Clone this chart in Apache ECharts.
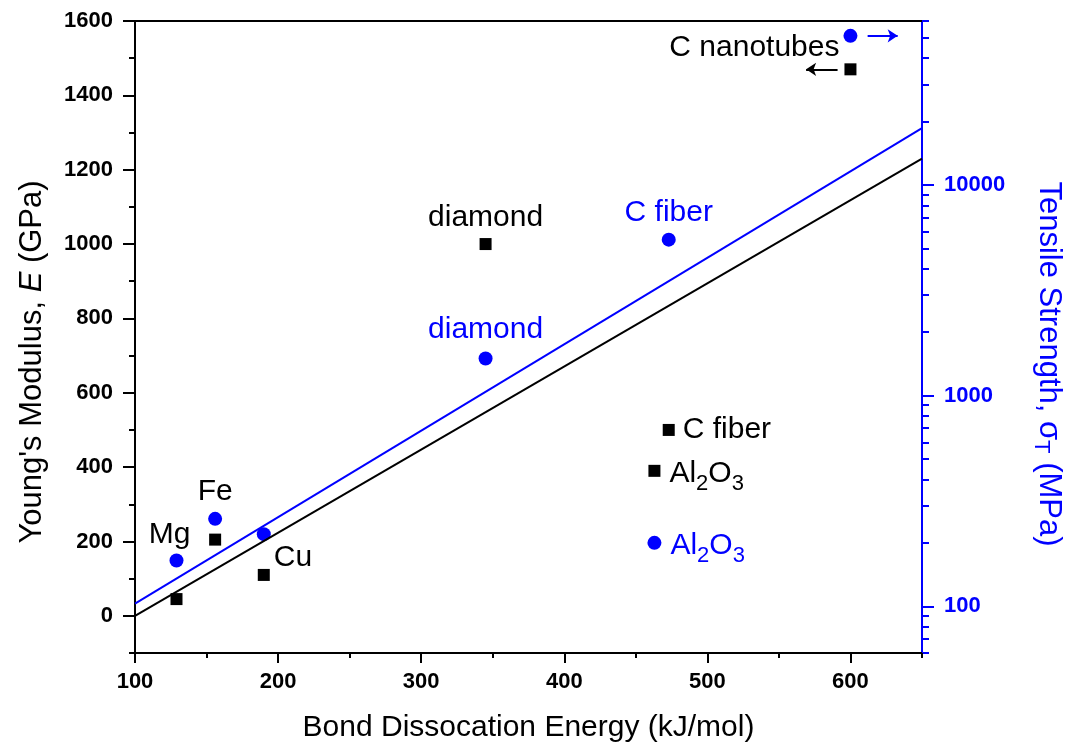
<!DOCTYPE html>
<html lang="en" style="height: 100%">

<head>
  <meta charset="utf-8">
</head>

<body style="height: 100%; margin: 0">
  <div id="container" style="height: 100%"></div>

  <script type="text/javascript" src="https://cdn.jsdelivr.net/npm/echarts@6/dist/echarts.min.js"></script>

  <script type="text/javascript">
    // materials
    const names = ['Mg', 'Fe', 'Cu', 'diamond', 'C fiber', 'Al2O3', 'C nanotubes'];
    const bondEnergy = [129, 156, 190, 345, 473, 463, 600];       // kJ/mol
    const modulus = [45, 205, 110, 1000, 500, 390, 1470];          // GPa
    const strength = [165, 260, 220, 1500, 5500, 200, 51000];      // MPa

    // linear fits
    const fitEnergy = [100, 650];
    const fitModulus = [0, 1230];
    const fitStrength = [103, 18600];

    // arrows showing which axis the nanotube points belong to
    const arrowModulus = [[591, 1470], [569, 1470]];
    const arrowStrength = [[612, 51000], [633, 51000]];

    // ticks
    const xMajor = [100, 200, 300, 400, 500, 600];
    const xMinor = [150, 250, 350, 450, 550, 650];
    const eMajor = [0, 200, 400, 600, 800, 1000, 1200, 1400, 1600];
    const eMinor = [-100, 100, 300, 500, 700, 900, 1100, 1300, 1500];
    const sMajor = [100, 1000, 10000];
    const sMinor = [60, 70, 80, 90, 200, 300, 400, 500, 600, 700, 800, 900,
      2000, 3000, 4000, 5000, 6000, 7000, 8000, 9000, 20000, 30000, 40000, 50000, 60000];

    const BLUE = '#0000ff';
    const FONT = 'Liberation Sans, Arial, sans-serif';

    // where each point label goes
    const modulusLabels = {
      'Cu': { position: 'right', distance: 4, offset: [0, -17] },
      'diamond': { position: 'top', distance: 5 },
      'C fiber': { position: 'right', distance: 8 },
      'Al2O3': { position: 'right', distance: 9, offset: [0, 3] },
      'C nanotubes': { position: 'left', distance: 5, offset: [0, -22] }
    };
    const strengthLabels = {
      'Mg': { position: 'top', distance: 4, offset: [-7, 0], color: '#000' },
      'Fe': { position: 'top', distance: 5, color: '#000' },
      'diamond': { position: 'top', distance: 7 },
      'C fiber': { position: 'top', distance: 5 },
      'Al2O3': { position: 'right', distance: 9, offset: [0, 3] }
    };

    function labelText(name) {
      return name === 'Al2O3' ? 'Al{sub|2}O{sub|3}' : name;
    }

    function subRich(color) {
      return {
        sub: { fontSize: 22, fontFamily: FONT, color: color, padding: [20, 0, 0, 0] }
      };
    }

    function points(values, labels, color) {
      return names.map(function (n, i) {
        const item = { name: n, value: [bondEnergy[i], values[i]] };
        const l = labels[n];
        if (l) {
          item.label = Object.assign({
            show: true,
            formatter: labelText(n),
            fontSize: 30,
            fontFamily: FONT,
            color: color,
            rich: subRich(l.color || color)
          }, l);
        }
        return item;
      });
    }

    function intLabel(v) {
      return String(Math.round(v));
    }

    var dom = document.getElementById('container');
    var myChart = echarts.init(dom, null, { renderer: 'canvas' });

    const tickLabel = { fontSize: 22, fontWeight: 'bold', fontFamily: FONT, color: '#000' };

    var option = {
      animation: false,
      grid: { left: 135, right: 144, top: 21, bottom: 102, containLabel: false, outerBoundsMode: 'none' },
      xAxis: [
        {
          type: 'value', min: 100, max: 650, position: 'bottom',
          name: 'Bond Dissocation Energy (kJ/mol)',
          nameLocation: 'middle', nameGap: 60,
          nameTextStyle: { fontSize: 30, fontFamily: FONT, color: '#000' },
          axisLine: { onZero: false, lineStyle: { color: '#000', width: 2 } },
          axisTick: { customValues: xMajor, length: 10, lineStyle: { width: 2 } },
          axisLabel: Object.assign({ customValues: xMajor, margin: 18, formatter: intLabel }, tickLabel),
          splitLine: { show: false }
        },
        {
          type: 'value', min: 100, max: 650, position: 'bottom',
          axisLine: { show: false, onZero: false },
          axisTick: { customValues: xMinor, length: 5, lineStyle: { color: '#000', width: 2 } },
          axisLabel: { show: false },
          splitLine: { show: false }
        },
        {
          type: 'value', min: 100, max: 650, position: 'top',
          axisLine: { onZero: false, lineStyle: { color: '#000', width: 2 } },
          axisTick: { show: false },
          axisLabel: { show: false },
          splitLine: { show: false }
        }
      ],
      yAxis: [
        {
          type: 'value', min: -100, max: 1600, position: 'left',
          name: "Young's Modulus, {i|E} (GPa)",
          nameLocation: 'middle', nameRotate: 90, nameGap: 87,
          nameTextStyle: {
            fontSize: 31, fontFamily: FONT, color: '#000', padding: [0, 50, 0, 0],
            rich: { i: { fontSize: 31, fontFamily: FONT, fontStyle: 'italic', color: '#000' } }
          },
          axisLine: { onZero: false, lineStyle: { color: '#000', width: 2 } },
          axisTick: { customValues: eMajor, length: 12, lineStyle: { width: 2 } },
          axisLabel: Object.assign({ customValues: eMajor, margin: 22, formatter: intLabel }, tickLabel),
          splitLine: { show: false }
        },
        {
          type: 'log', logBase: 10, min: 60, max: 60000, position: 'right',
          name: 'Tensile Strength, \u03c3{sub|T} (MPa)',
          nameLocation: 'middle', nameRotate: -90, nameGap: 108,
          nameTextStyle: {
            fontSize: 31, fontFamily: FONT, color: BLUE, padding: [0, 0, 0, 54],
            rich: { sub: { fontSize: 22, fontFamily: FONT, color: BLUE, padding: [16, 0, 0, 0] } }
          },
          axisLine: { onZero: false, lineStyle: { color: BLUE, width: 2 } },
          axisTick: { customValues: sMajor, length: 12, lineStyle: { color: BLUE, width: 2 } },
          axisLabel: Object.assign({ customValues: sMajor, margin: 22, formatter: intLabel }, tickLabel, { color: BLUE }),
          splitLine: { show: false }
        },
        {
          type: 'value', min: -100, max: 1600, position: 'left',
          axisLine: { show: false, onZero: false },
          axisTick: { customValues: eMinor, length: 6, lineStyle: { color: '#000', width: 2 } },
          axisLabel: { show: false },
          splitLine: { show: false }
        },
        {
          type: 'log', logBase: 10, min: 60, max: 60000, position: 'right',
          axisLine: { show: false, onZero: false },
          axisTick: { customValues: sMinor, length: 7, lineStyle: { color: BLUE, width: 2 } },
          axisLabel: { show: false },
          splitLine: { show: false }
        }
      ],
      series: [
        {
          type: 'line', xAxisIndex: 0, yAxisIndex: 0, silent: true,
          symbol: 'none', lineStyle: { color: '#000', width: 2 },
          data: fitEnergy.map(function (x, i) { return [x, fitModulus[i]]; })
        },
        {
          type: 'line', xAxisIndex: 0, yAxisIndex: 1, silent: true,
          symbol: 'none', lineStyle: { color: BLUE, width: 2 },
          data: fitEnergy.map(function (x, i) { return [x, fitStrength[i]]; })
        },
        {
          type: 'scatter', xAxisIndex: 0, yAxisIndex: 0,
          symbol: 'rect', symbolSize: 12,
          itemStyle: { color: '#000', opacity: 1 },
          data: points(modulus, modulusLabels, '#000'),
          markLine: {
            silent: true, symbol: ['none', 'arrow'], symbolSize: 10,
            label: { show: false },
            lineStyle: { color: '#000', width: 2, type: 'solid', opacity: 1 },
            data: [[{ coord: arrowModulus[0] }, { coord: arrowModulus[1] }]]
          }
        },
        {
          type: 'scatter', xAxisIndex: 0, yAxisIndex: 1,
          symbol: 'circle', symbolSize: 14,
          itemStyle: { color: BLUE, opacity: 1 },
          data: points(strength, strengthLabels, BLUE),
          markLine: {
            silent: true, symbol: ['none', 'arrow'], symbolSize: 10,
            label: { show: false },
            lineStyle: { color: BLUE, width: 2, type: 'solid', opacity: 1 },
            data: [[{ coord: arrowStrength[0] }, { coord: arrowStrength[1] }]]
          }
        }
      ]
    };

    myChart.setOption(option);
    window.addEventListener('resize', myChart.resize);
  </script>
</body>

</html>
